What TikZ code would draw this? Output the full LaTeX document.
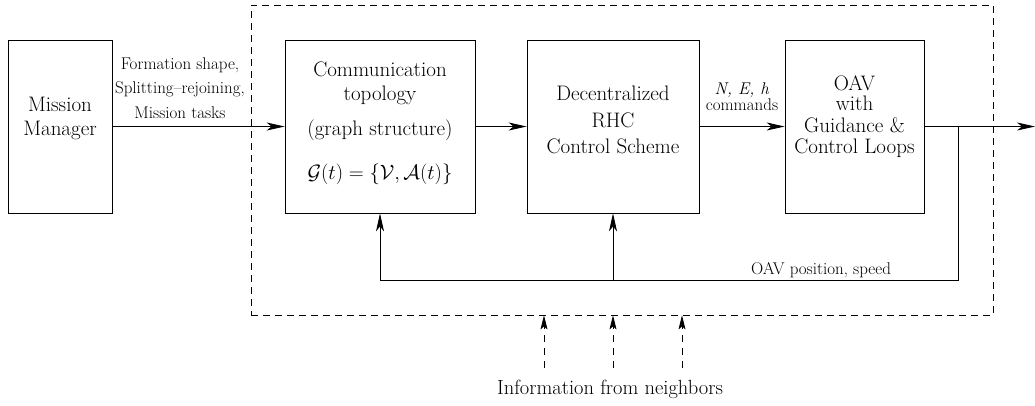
\documentclass[tikz,border=0pt]{standalone}
\usepackage{fontspec}
\usetikzlibrary{arrows.meta}
\begin{document}
\begin{tikzpicture}[x=1pt,y=-1pt,
  blk/.style={draw, line width=0.8pt, minimum height=173pt, inner sep=0pt},
  big/.style={font=\rmfamily\fontsize{21}{24}\selectfont, inner sep=0pt, anchor=base},
  small/.style={font=\rmfamily\fontsize{17}{20}\selectfont, inner sep=0pt, anchor=base},
  arr/.style={-{Stealth[length=18pt,width=8pt,inset=5pt]}, line width=0.8pt},
  narr/.style={-{Stealth[length=14pt,width=7pt,inset=3pt]}, line width=0.8pt, dash pattern=on 7pt off 6pt},
  frm/.style={draw, line width=0.8pt, dash pattern=on 7pt off 5pt, minimum width=742pt, minimum height=310pt, inner sep=0pt}]
\useasboundingbox (0,0) rectangle (1035,405);

% frame
\node[frm] (frame) at (622,160) {};

% blocks
\node[blk, minimum width=104pt] (mm) at (60,126.5) {};
\node[blk, minimum width=190pt] (comm) at (380,126.5) {};
\node[blk, minimum width=172pt] (dec) at (613,126.5) {};
\node[blk, minimum width=139pt] (oav) at (854.5,126.5) {};

% block texts
\node[big] (mm1) at (60,111) {Mission};
\node[big] (mm2) at (60,135) {Manager};

\node[big] (c1) at (380,76) {Communication};
\node[big] (c2) at (380,100) {topology};
\node[big] (c3) at (380,135) {(graph structure)};
\node[font=\fontsize{21}{24}\selectfont, inner sep=0pt, anchor=base] (c4) at (380,179) {$\mathcal{G}(t)=\{\mathcal{V},\mathcal{A}(t)\}$};

\node[big] (d1) at (613,100) {Decentralized};
\node[big] (d2) at (613,127) {RHC};
\node[big] (d3) at (613,153) {Control Scheme};

\node[big] (o1) at (854.5,90) {OAV};
\node[big] (o2) at (854.5,110) {with};
\node[big] (o3) at (854.5,132) {Guidance \&};
\node[big] (o4) at (854.5,153) {Control Loops};

% forward connectors
\draw[arr] (mm.east) -- (comm.west);
\draw[arr] (comm.east) -- (dec.west);
\draw[arr] (dec.east) -- (oav.west);
\coordinate (out) at (1035,126.5);
\draw[arr] (oav.east) -- (out);

% labels on connectors
\node[small] (f1) at (180,69) {Formation shape,};
\node[small] (f2) at (180,93) {Splitting--rejoining,};
\node[small] (f3) at (180,118) {Mission tasks};
\node[small] (n1l) at (742,94) {\textit{N, E, h}};
\node[small] (n2l) at (742,110) {commands};

% feedback
\coordinate (j) at (958,126.5);
\coordinate (jb) at (958,280);
\draw[line width=0.8pt] (j) -- (jb) -- (comm.south |- jb);
\draw[arr] (comm.south |- jb) -- (comm.south);
\draw[arr] (dec.south |- jb) -- (dec.south);
\node[small] (fb) at (821,274) {OAV position, speed};

% neighbor information
\coordinate (nb1) at (544,368);
\coordinate (nb2) at (613,368);
\coordinate (nb3) at (682,368);
\draw[narr] (nb1) -- (nb1 |- frame.south);
\draw[narr] (nb2) -- (nb2 |- frame.south);
\draw[narr] (nb3) -- (nb3 |- frame.south);
\node[font=\rmfamily\fontsize{20.5}{24}\selectfont, inner sep=0pt, anchor=base] (info) at (610,394) {Information from neighbors};
\end{tikzpicture}
\end{document}
